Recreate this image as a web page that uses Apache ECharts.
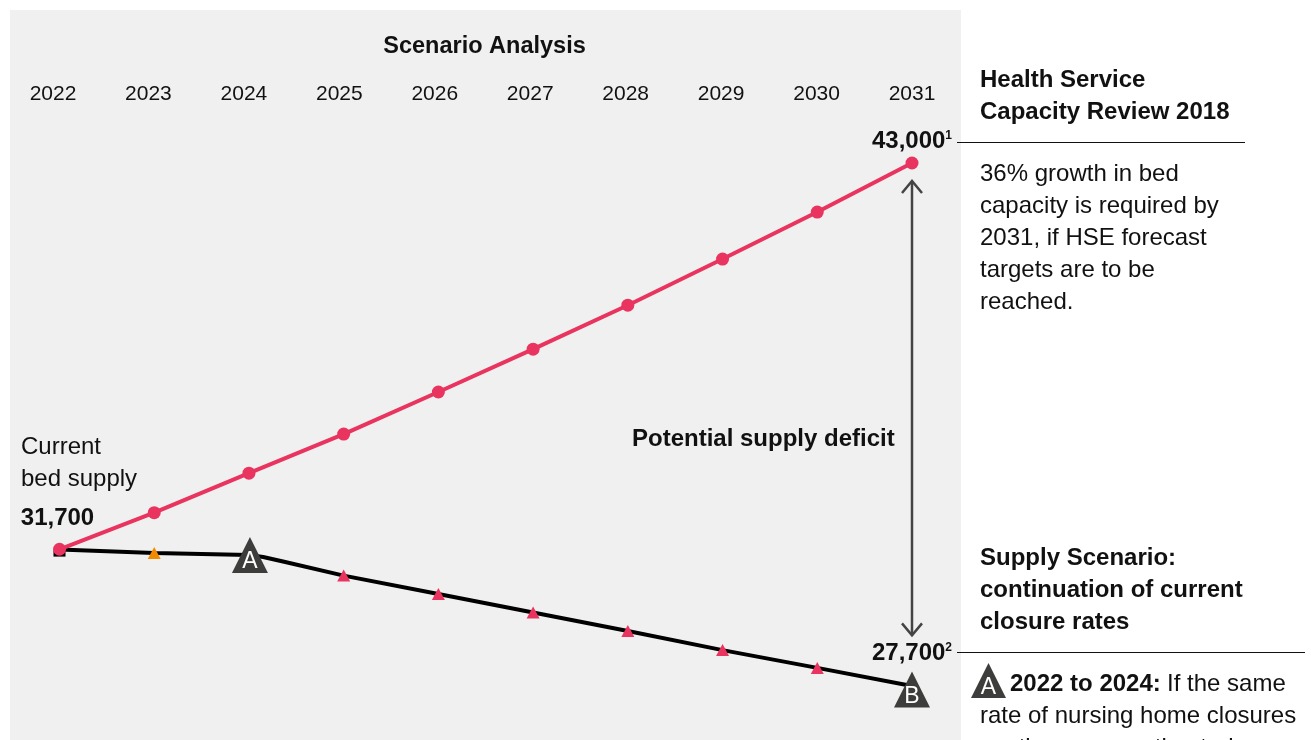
<!DOCTYPE html>
<html><head><meta charset="utf-8">
<style>html,body{margin:0;padding:0;background:#fff;overflow:hidden}#c{width:1311px;height:740px}</style>
<script src="https://cdn.jsdelivr.net/npm/echarts@6/dist/echarts.min.js"></script>
</head><body><div id="c"></div>
<script>
const years = [2022,2023,2024,2025,2026,2027,2028,2029,2030,2031];
const reviewValues = [31700,32770,33925,35070,36300,37555,38840,40190,41565,43000];
const scenarioYears = [2022,2023,2024,2024.15,2024.36,2025,2026,2027,2028,2029,2030,2031];
const scenarioValues = [31690,31590,31530,31473,31341,30930,30390,29850,29310,28750,28230,27700];
const markerYears = [2023,2025,2026,2027,2028,2029,2030];
const deficitArrow = [42473,29181];
const titleText = 'Scenario Analysis';
const reviewHead = ['Health Service','Capacity Review 2018'];
const reviewBody = ['36% growth in bed','capacity is required by','2031, if HSE forecast','targets are to be','reached.'];
const scenarioHead = ['Supply Scenario:','continuation of current','closure rates'];
const scenarioBody = ['rate of nursing home closures','continues, an estimated'];

const FONT = '"Liberation Sans", Arial, sans-serif';
const RED = '#e9345f', DARK = '#3d3d3b', ORANGE = '#f08a00', INK = '#111';
const SIZE = 24, YEAR = 21;
const txt = (x,y,text,weight,extra) => ({type:'text',x,y:y+1,silent:true,z:20,
  style:Object.assign({text,fill:INK,font:`${weight||'normal'} ${SIZE}px ${FONT}`,verticalAlign:'middle'},extra||{})});
const block = (x,y0,lines,weight) => lines.map((t,i)=>txt(x,y0+i*32,t,weight));
const tri = (cx,top,w,h) => ({type:'polygon',z:19,silent:true,shape:{points:[[cx,top],[cx+w/2,top+h],[cx-w/2,top+h]]},style:{fill:DARK}});
const numberLabel = (fmt,distance,offset) => ({show:true,position:'top',distance,offset:offset||[0,0],formatter:fmt,
  rich:{n:{color:INK,fontFamily:FONT,fontSize:SIZE,fontWeight:'bold'},s:{color:INK,fontFamily:FONT,fontSize:12,fontWeight:'bold',verticalAlign:'top',padding:[0,0,8,0]}}});

const scenarioData = scenarioYears.map((y,i)=>{
  const item = {value:[y,scenarioValues[i]],symbol:'none'};
  if (y===2022) { item.symbol='rect'; item.symbolSize=[12,6]; item.symbolOffset=[0,4]; item.itemStyle={color:'#000'}; }
  if (y===2024 || y===2031) {
    item.symbol='triangle'; item.symbolSize=[36,36];
    item.symbolOffset = y===2031 ? [0,3.5] : [1,0];
    item.itemStyle={color:DARK};
    item.label={show:true,position:'inside',offset:[0,7],formatter:y===2024?'A':'B',color:'#fff',fontSize:23,fontFamily:FONT};
  }
  return item;
});

const option = {
  animation:false,
  backgroundColor:'#fff',
  title:{text:titleText,left:479.5,top:29,textAlign:'center',textStyle:{fontFamily:FONT,fontSize:23.5,fontWeight:'bold',color:INK,lineHeight:26}},
  grid:[
    {left:59.5,right:1311-912,top:163,height:523},
    {left:53,right:1311-912,top:108,height:1}
  ],
  xAxis:[
    {type:'value',gridIndex:0,min:2022,max:2031,show:false},
    {type:'category',gridIndex:1,data:years.map(String),position:'top',boundaryGap:false,
     axisLine:{show:false},axisTick:{show:false},
     axisLabel:{interval:0,margin:3,color:INK,fontFamily:FONT,fontSize:YEAR}}
  ],
  yAxis:[
    {type:'value',gridIndex:0,min:27700,max:43000,show:false},
    {type:'value',gridIndex:1,show:false}
  ],
  series:[
    {type:'line',name:'Supply scenario',xAxisIndex:0,yAxisIndex:0,z:3,data:scenarioData,
     lineStyle:{color:'#000',width:4},itemStyle:{color:'#000'},showSymbol:true,showAllSymbols:true,
     label:{show:false},clip:false},
    {type:'scatter',name:'Markers',xAxisIndex:0,yAxisIndex:0,z:4,symbol:'triangle',symbolSize:[13,12],clip:false,
     data:markerYears.map(y=>({value:[y,scenarioValues[scenarioYears.indexOf(y)]],
       itemStyle:{color:y===2023?ORANGE:RED,opacity:1}}))},
    {type:'line',name:'Review',xAxisIndex:0,yAxisIndex:0,z:5,clip:false,
     data:years.map((y,i)=>[y,reviewValues[i]]),symbol:'circle',symbolSize:13,showAllSymbols:true,
     lineStyle:{color:RED,width:4},itemStyle:{color:RED}},
    {type:'scatter',name:'Value labels',xAxisIndex:0,yAxisIndex:0,z:6,symbolSize:1,itemStyle:{color:'rgba(0,0,0,0)',opacity:1},clip:false,
     data:[
       {value:[2022,reviewValues[0]],label:numberLabel('{n|31,700}',18,[-2,0])},
       {value:[2031,reviewValues[9]],label:numberLabel('{n|43,000}{s|1}',9)},
       {value:[2031,scenarioValues[11]],label:numberLabel('{n|27,700}{s|2}',20)}
     ]},
    {type:'custom',name:'Deficit arrow',xAxisIndex:0,yAxisIndex:0,z:2,clip:false,
     data:[[2031,deficitArrow[0],deficitArrow[1]]],
     renderItem(params,api){
       const a=api.coord([api.value(0),api.value(1)]), b=api.coord([api.value(0),api.value(2)]);
       const st={stroke:'#444',lineWidth:2.5,fill:'none'};
       return {type:'group',children:[
         {type:'line',shape:{x1:a[0],y1:a[1],x2:b[0],y2:b[1]},style:st},
         {type:'polyline',shape:{points:[[a[0]-10,a[1]+12],[a[0],a[1]],[a[0]+10,a[1]+12]]},style:st},
         {type:'polyline',shape:{points:[[b[0]-10,b[1]-12],[b[0],b[1]],[b[0]+10,b[1]-12]]},style:st}
       ]};
     }}
  ],
  graphic:{elements:[
    {type:'rect',z:-10,silent:true,shape:{x:10,y:10,width:951,height:730},style:{fill:'#f0f0f0'}},
    {type:'line',z:18,silent:true,shape:{x1:957,y1:142.5,x2:1245,y2:142.5},style:{stroke:INK,lineWidth:1}},
    {type:'line',z:18,silent:true,shape:{x1:957,y1:652.5,x2:1305,y2:652.5},style:{stroke:INK,lineWidth:1}},
    ...block(21,446,['Current','bed supply']),
    txt(632,438,'Potential supply deficit','bold'),
    ...block(980,79,reviewHead,'bold'),
    ...block(980,173,reviewBody),
    ...block(980,557,scenarioHead,'bold'),
    tri(988.5,663,35,35),
    txt(988.5,687,'A',null,{fill:'#fff',align:'center',font:`normal 23px ${FONT}`}),
    txt(1010,683,'2022 to 2024:','bold'),
    txt(1167,683,'If the same'),
    ...block(980,715,scenarioBody)
  ]}
};
const chart = echarts.init(document.getElementById('c'));
chart.setOption(option);
</script></body></html>
